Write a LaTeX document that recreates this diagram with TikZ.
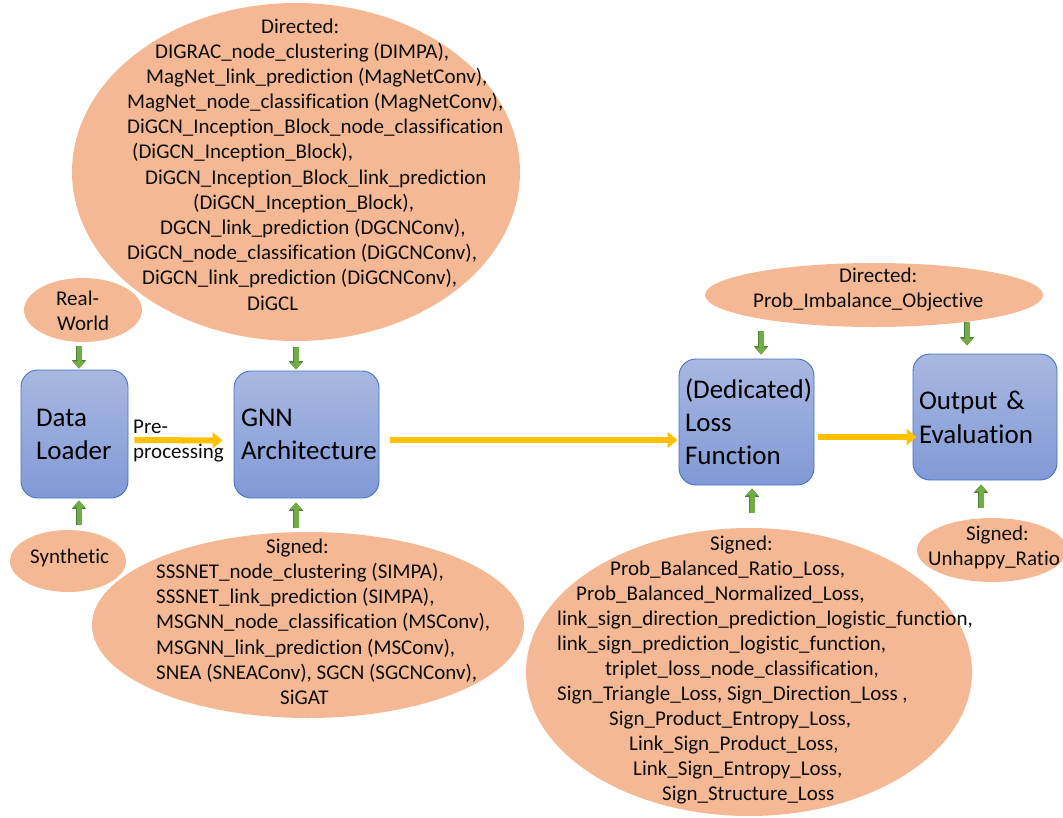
\documentclass[tikz,border=0pt]{standalone}
\usepackage{fontspec}
\setmainfont{Carlito}[Ligatures=NoCommon]
\usetikzlibrary{arrows.meta,shapes.geometric}
\definecolor{peach}{HTML}{F4B994}
\definecolor{boxtop}{HTML}{A9B8E1}
\definecolor{boxbot}{HTML}{8099D6}
\definecolor{boxline}{HTML}{4472C4}
\definecolor{gfill}{HTML}{70AD47}
\definecolor{gline}{HTML}{507E32}
\definecolor{yfill}{HTML}{FFC000}
\definecolor{txtc}{HTML}{0D0D0D}
\tikzset{
  ell/.style={ellipse, fill=peach, draw=none, inner sep=0pt},
  etxt/.style={anchor=base west, inner sep=0pt, text=txtc, font=\fontsize{21}{25}\selectfont},
  stepbox/.style={rectangle, rounded corners=17pt, draw=boxline, line width=0.9pt,
    top color=boxtop, bottom color=boxbot, inner ysep=0pt, align=left, text=black,
    font=\fontsize{27}{33}\selectfont},
  garr/.style={line width=5pt, draw=gfill, -{Triangle[width=12pt,length=7pt]},
    preaction={draw=gline, line width=6.4pt, -{Triangle[width=14pt,length=8.5pt]}}},
  yarr/.style={line width=6pt, draw=yfill, -{Triangle[width=16pt,length=10pt]}}
}
\begin{document}
\begin{tikzpicture}[x=1pt,y=-1pt]
\useasboundingbox (0,0) rectangle (1063,817);
% ellipses
\node[ell, minimum width=448pt, minimum height=338pt] (top) at (296,172) {};
\node[ell, minimum width=118pt, minimum height=64pt] (rw) at (83,310) {};
\node[ell, minimum width=116pt, minimum height=62pt] (syn) at (68,561) {};
\node[ell, minimum width=432pt, minimum height=186pt] (sg) at (308,625) {};
\node[ell, minimum width=338pt, minimum height=64pt] (prob) at (874,295) {};
\node[ell, minimum width=446pt, minimum height=288pt] (sl) at (749,672) {};
\node[ell, minimum width=150pt, minimum height=64pt] (unh) at (992,550) {};
% boxes
\node[stepbox, inner xsep=15pt, text width=77pt, minimum height=128pt] (dl) at (74.5,434) {Data\\Loader};
\node[stepbox, inner xsep=7pt, text width=131pt, minimum height=127pt] (gnn) at (306.5,434.5) {GNN\\Architecture};
\node[stepbox, inner xsep=6pt, text width=123pt, minimum height=126pt] (loss) at (746.5,422) {(Dedicated)\\Loss\\Function};
\node[stepbox, inner xsep=6pt, text width=132pt, minimum height=126pt, font=\fontsize{27}{34}\selectfont] (out) at (985,417) {Output \&\\Evaluation};
% texts of ellipses
\foreach \n/\x/\y/\t in {
  1/261/33/{Directed:},
  2/155/58/{DIGRAC\_node\_clustering (DIMPA),},
  3/146/83/{MagNet\_link\_prediction (MagNetConv),},
  4/127/108/{MagNet\_node\_classification (MagNetConv),},
  5/127/133/{DiGCN\_Inception\_Block\_node\_classification},
  6/132/158/{(DiGCN\_Inception\_Block),},
  7/145/184/{DiGCN\_Inception\_Block\_link\_prediction},
  8/193/209/{(DiGCN\_Inception\_Block),},
  9/160/234/{DGCN\_link\_prediction (DGCNConv),},
  10/127/259/{DiGCN\_node\_classification (DiGCNConv),},
  11/142/284/{DiGCN\_link\_prediction (DiGCNConv),},
  12/247/310/{DiGCL}}
  {\node[etxt] (td\n) at (\x,\y) {\t};}
\foreach \n/\x/\y/\t in {
  1/266/553/{Signed:},
  2/156/578/{SSSNET\_node\_clustering (SIMPA),},
  3/156/603/{SSSNET\_link\_prediction (SIMPA),},
  4/156/628/{MSGNN\_node\_classification (MSConv),},
  5/156/654/{MSGNN\_link\_prediction (MSConv),},
  6/156/679/{SNEA (SNEAConv), SGCN (SGCNConv),},
  7/280/704/{SiGAT}}
  {\node[etxt] (ts\n) at (\x,\y) {\t};}
\foreach \n/\x/\y/\t in {
  1/710/550/{Signed:},
  2/610/575/{Prob\_Balanced\_Ratio\_Loss,},
  3/576/600/{Prob\_Balanced\_Normalized\_Loss,},
  4/557/625/{link\_sign\_direction\_prediction\_logistic\_function,},
  5/557/650/{link\_sign\_prediction\_logistic\_function,},
  6/605/675/{triplet\_loss\_node\_classification,},
  7/557/700/{Sign\_Triangle\_Loss, Sign\_Direction\_Loss ,},
  8/609/725/{Sign\_Product\_Entropy\_Loss,},
  9/629/750/{Link\_Sign\_Product\_Loss,},
  10/633/775/{Link\_Sign\_Entropy\_Loss,},
  11/662/800/{Sign\_Structure\_Loss}}
  {\node[etxt] (tl\n) at (\x,\y) {\t};}
\node[etxt] (rw1) at (56,305) {Real-};
\node[etxt] (rw2) at (57,330) {World};
\node[etxt] (syn1) at (30,563) {Synthetic};
\node[etxt] (pb1) at (839,282) {Directed:};
\node[etxt] (pb2) at (753,307) {Prob\_Imbalance\_Objective};
\node[etxt] (uh1) at (966,540) {Signed:};
\node[etxt] (uh2) at (928,565) {Unhappy\_Ratio};
\node[etxt] (pre1) at (133,433) {Pre-};
\node[etxt] (pre2) at (133,458) {processing};
% yellow arrows
\draw[yarr, shorten <=6pt, shorten >=11pt] ([yshift=-6pt]dl.east) -- ([yshift=-6pt]gnn.west);
\draw[yarr, shorten <=11pt, shorten >=1pt] ([yshift=-5.5pt]gnn.east) -- ([yshift=-5.5pt]gnn.east -| loss.west);
\draw[yarr, shorten <=4pt, shorten >=-4pt] ([yshift=-15pt]loss.east) -- ([yshift=-15pt]loss.east -| out.west);
% green arrows
\draw[garr, shorten <=4pt, shorten >=1pt] ([xshift=4.5pt]dl.north |- rw.south) -- ([xshift=4.5pt]dl.north);
\draw[garr, shorten <=6pt, shorten >=1pt] (top.south) -- (top.south |- gnn.north);
\draw[garr, shorten <=5pt, shorten >=2pt] ([xshift=4.5pt]dl.south |- syn.north) -- ([xshift=4.5pt]dl.south);
\draw[garr, shorten <=4pt, shorten >=4pt] ([xshift=-10.5pt]gnn.south |- sg.north) -- ([xshift=-10.5pt]gnn.south);
\draw[garr, shorten <=4pt, shorten >=4pt] ([xshift=14.5pt]loss.north |- prob.south) -- ([xshift=14.5pt]loss.north);
\draw[garr, shorten <=-5pt, shorten >=8pt] ([xshift=-18pt]out.north |- prob.south) -- ([xshift=-18pt]out.north);
\draw[garr, shorten <=15pt, shorten >=3pt] ([xshift=5.5pt]loss.south |- sl.north) -- ([xshift=5.5pt]loss.south);
\draw[garr, shorten <=10pt, shorten >=4pt] ([xshift=-4pt]out.south |- unh.north) -- ([xshift=-4pt]out.south);
\end{tikzpicture}
\end{document}
